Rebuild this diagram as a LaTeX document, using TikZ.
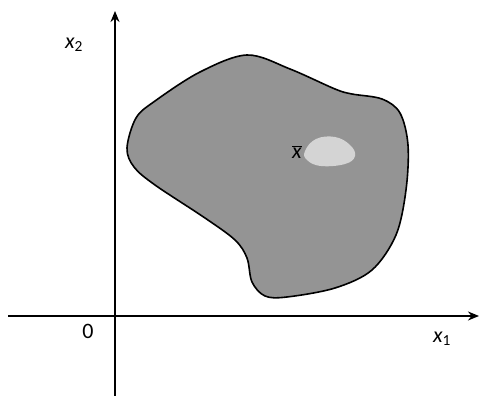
\documentclass[tikz,border=0pt]{standalone}
\usepackage{fontspec}
\setmainfont{Carlito}
\usetikzlibrary{arrows.meta}
\definecolor{regiongray}{RGB}{148,148,148}
\definecolor{lightblob}{RGB}{212,212,212}
\tikzset{
  axis/.style={line width=2.2pt,-{Stealth[length=11pt,width=9pt]}},
  lbl/.style={font=\fontsize{22}{26}\selectfont, inner sep=0pt},
}
\begin{document}
\begin{tikzpicture}[x=1pt,y=-1pt]
\useasboundingbox (0,0) rectangle (480,403);
% region
\draw[line width=1.6pt, fill=regiongray] plot[smooth cycle, tension=0.55] coordinates {
 (127,148) (136,118) (155,101) (200,72) (247,55) (290,69) (335,89) (352,94) (382,99) (400,113)
 (408,145) (406,190) (396,235) (372,270) (335,288) (287,297) (265,296) (252,282)
 (247,258) (235,240) (205,218) (155,185) (134,167)};
% light blob
\fill[lightblob] plot[smooth cycle, tension=0.7] coordinates {
 (305,151) (316,139) (335,137) (350,145) (355,156) (345,164) (321,166) (307,160)};
% axes
\coordinate (xs) at (8,316);
\coordinate (xe) at (479,316);
\coordinate (ys) at (115,396);
\coordinate (ye) at (115,11);
\draw[axis] (xs) -- (xe);
\draw[axis] (ys) -- (ye);
% labels
\node[lbl] (xtwo) at (74,45) {\textit{x}\textsubscript{2}};
\node[lbl] (zero) at (88,331) {0};
\node[lbl] (xone) at (442,339) {\textit{x}\textsubscript{1}};
\node[lbl] (xbar) at (297,152) {$\overline{\mbox{\itshape x}}$};
\end{tikzpicture}
\end{document}
